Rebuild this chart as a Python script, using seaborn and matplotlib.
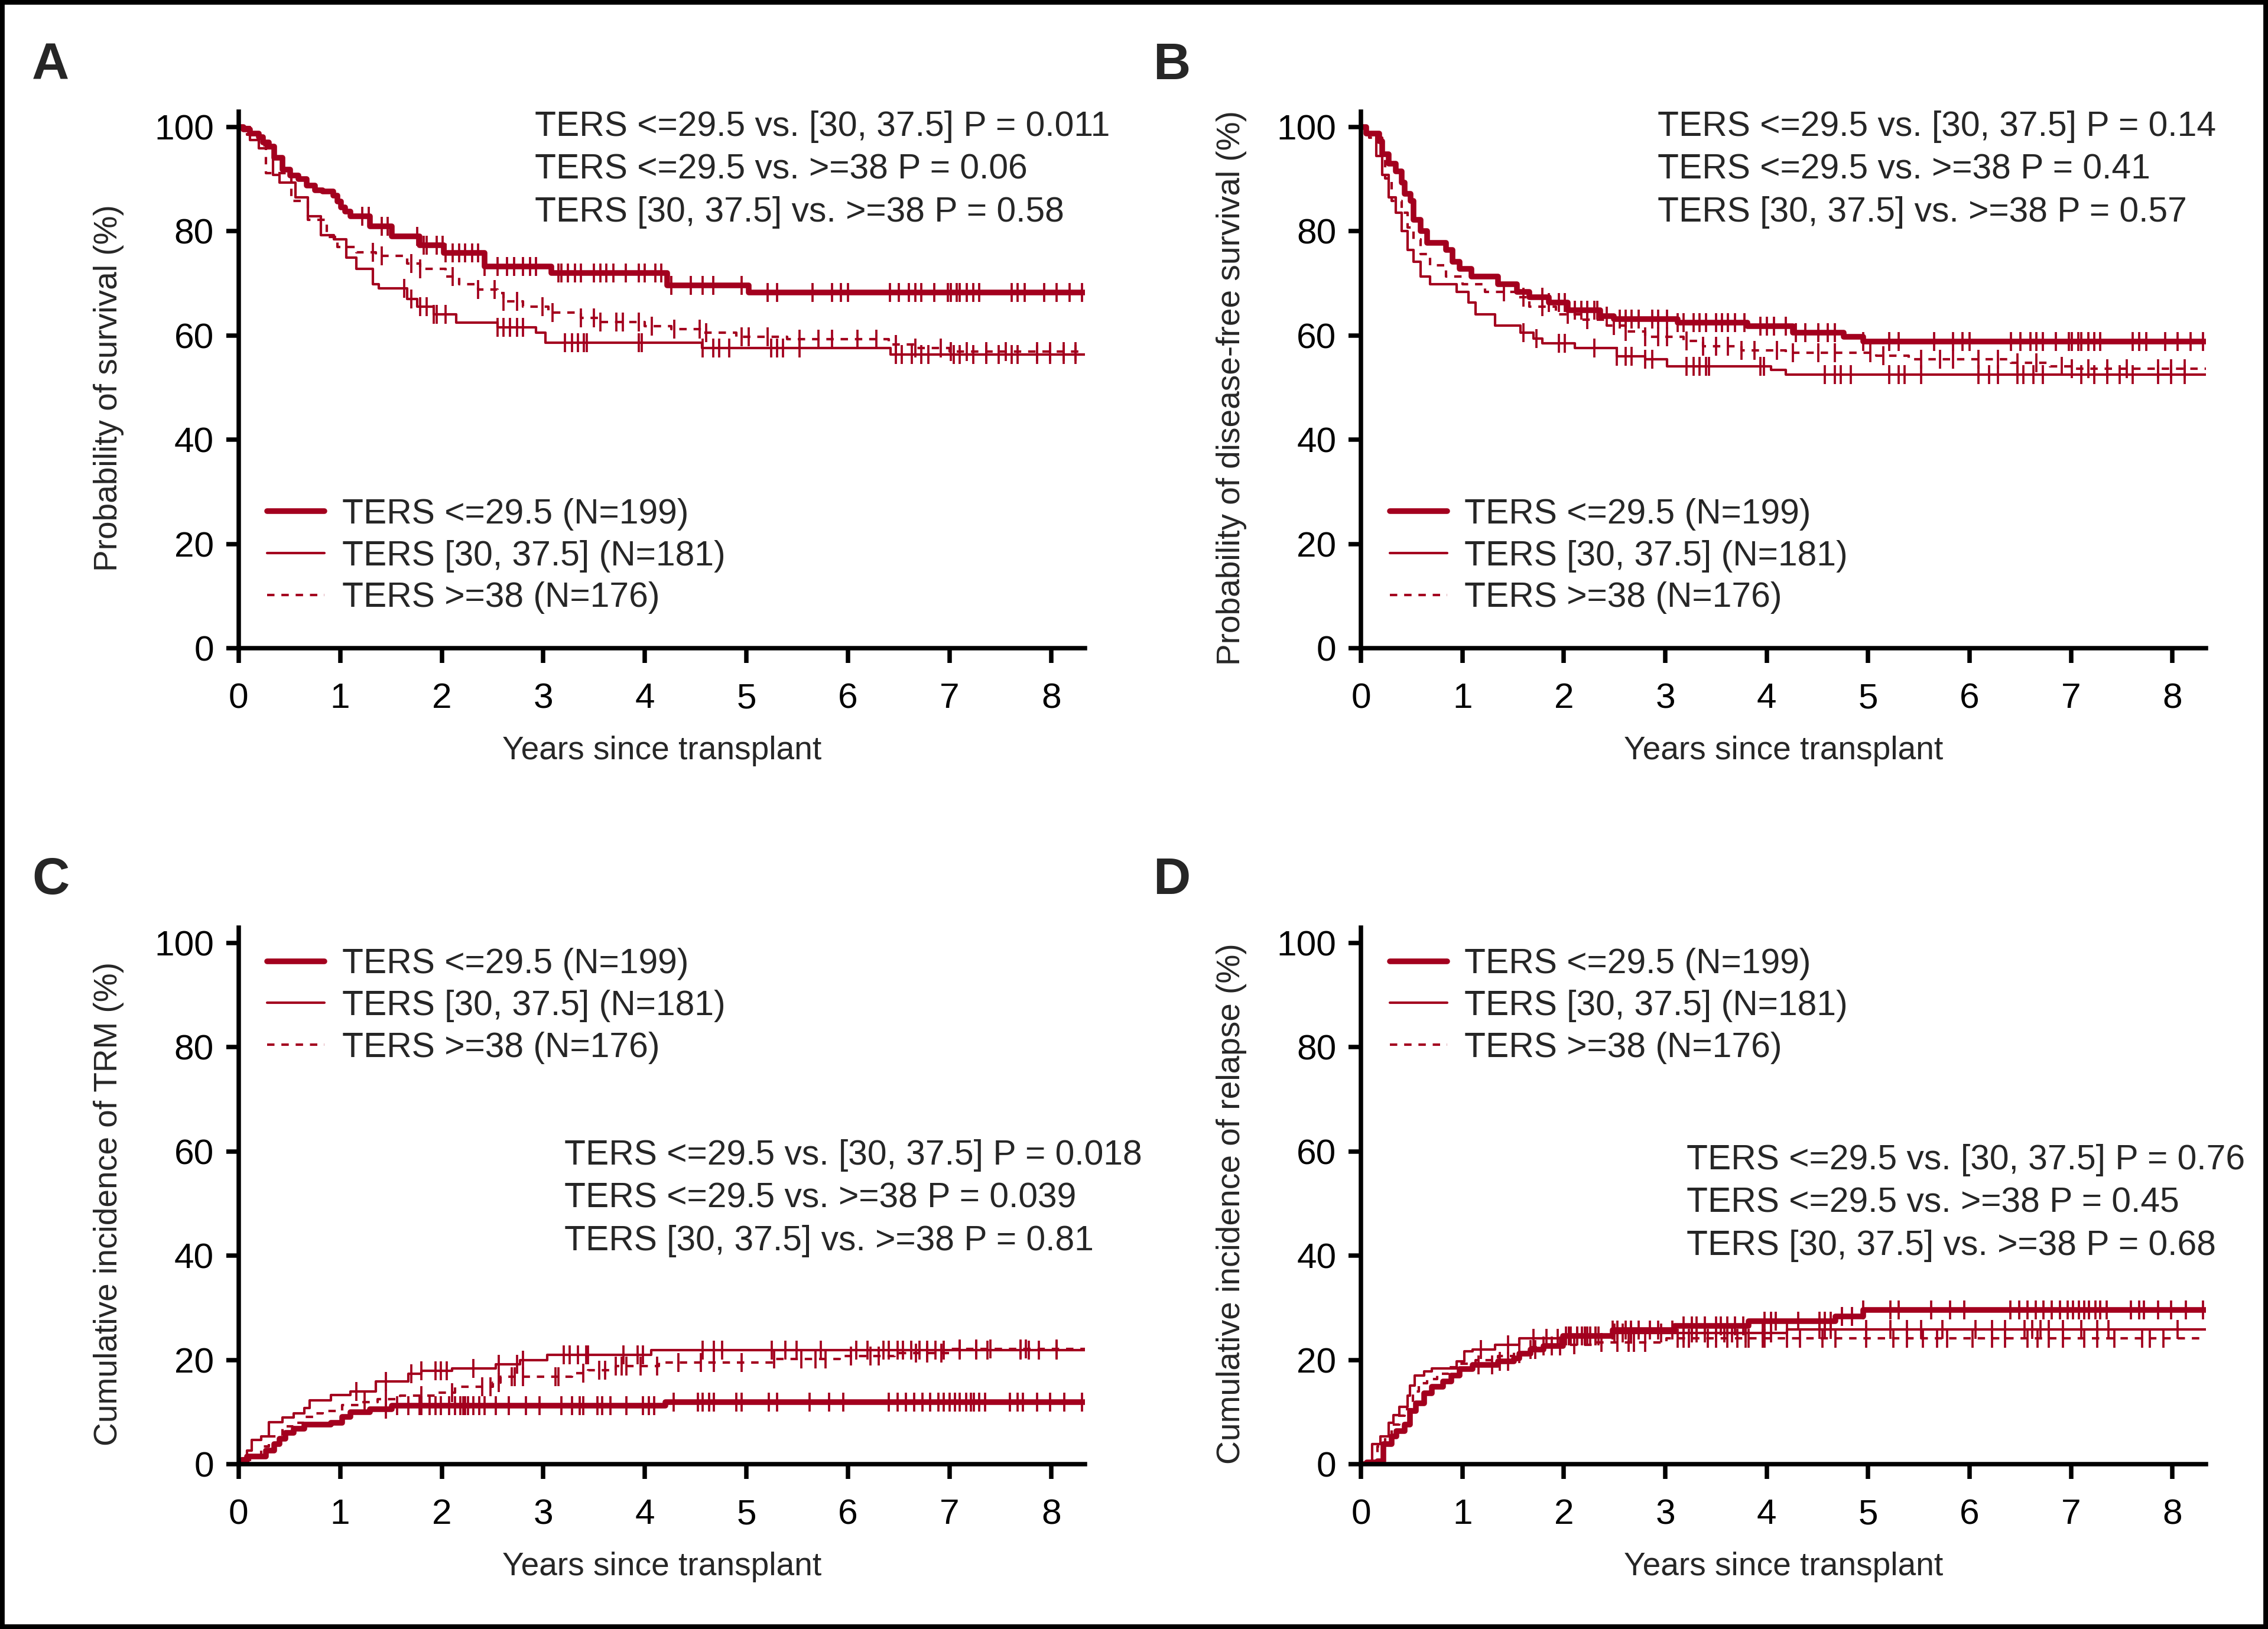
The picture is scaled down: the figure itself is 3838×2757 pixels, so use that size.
import numpy as np
import matplotlib
matplotlib.use("Agg")
import matplotlib.pyplot as plt
import seaborn as sns
from matplotlib.patches import Rectangle

RED = "#A3001E"
X_END = 8.33  # end of follow-up shown on the x axis

group_labels = ["TERS <=29.5 (N=199)", "TERS [30, 37.5] (N=181)", "TERS >=38 (N=176)"]

# ---- Panel A: overall survival ----
A_low_t = [0, 0.05, 0.11, 0.20, 0.24, 0.30, 0.35, 0.43, 0.51, 0.59, 0.67, 0.75, 0.83, 0.93, 0.97,
           1.01, 1.05, 1.10, 1.29, 1.51, 1.78, 2.02, 2.42, 3.08, 4.22, 5.02]
A_low_v = [100, 99.6, 98.8, 98.1, 97.0, 96.3, 94.1, 91.8, 90.7, 90.0, 88.8, 87.9, 87.7, 86.8, 85.7,
           84.6, 83.8, 82.9, 81.0, 79.0, 77.3, 75.8, 73.2, 72.0, 69.6, 68.3]
A_low_c = [1.22, 1.28, 1.41, 1.47, 1.76, 1.82, 1.85, 1.95, 2.01, 2.04, 2.11, 2.17, 2.23, 2.30, 2.36,
           2.42, 2.55, 2.64, 2.71, 2.80, 2.87, 2.93, 3.15, 3.18, 3.24, 3.31, 3.37, 3.50, 3.56, 3.62,
           3.69, 3.81, 3.94, 4.00, 4.10, 4.16, 4.26, 4.45, 4.57, 4.67, 4.95, 5.21, 5.30, 5.65, 5.84,
           5.93, 6.00, 6.41, 6.50, 6.60, 6.66, 6.72, 6.85, 6.98, 7.01, 7.07, 7.10, 7.17, 7.23, 7.29,
           7.61, 7.67, 7.74, 7.93, 8.05, 8.18, 8.30]

A_mid_t = [0, 0.11, 0.20, 0.34, 0.40, 0.56, 0.68, 0.81, 0.94, 1.06, 1.16, 1.32, 1.38, 1.66, 1.76,
           1.92, 2.14, 2.55, 2.93, 3.02, 4.56, 6.42]
A_mid_v = [100, 97.5, 95.9, 90.8, 89.4, 86.5, 82.9, 79.3, 78.5, 74.9, 72.8, 69.9, 69.1, 67.0, 65.5,
           64.1, 62.5, 61.6, 60.5, 58.6, 57.6, 56.3]
A_mid_c = [1.63, 1.70, 1.79, 1.85, 1.92, 1.95, 2.04, 2.55, 2.61, 2.67, 2.74, 2.80, 3.21, 3.28, 3.34,
           3.40, 3.43, 3.94, 3.97, 4.57, 4.67, 4.73, 4.83, 5.24, 5.30, 5.36, 5.52, 6.47, 6.53, 6.63,
           6.72, 6.79, 7.04, 7.10, 7.23, 7.36, 7.48, 7.61, 7.67, 7.86, 7.99, 8.12, 8.24]

A_high_t = [0, 0.08, 0.20, 0.27, 0.52, 0.68, 0.87, 0.97, 1.16, 1.35, 1.66, 1.79, 2.04, 2.17, 2.36,
            2.55, 2.61, 2.80, 3.05, 3.37, 3.56, 4.00, 4.26, 4.57, 4.90, 5.40, 6.40, 6.66, 7.00]
A_high_v = [100, 98.5, 96.5, 91.2, 85.8, 82.2, 78.9, 77.0, 76.0, 75.3, 73.8, 72.8, 71.3, 69.9, 68.8,
            68.1, 66.6, 65.5, 64.4, 63.4, 62.6, 61.8, 61.2, 60.5, 59.8, 59.3, 58.3, 57.6, 56.9]
A_high_c = [1.32, 1.41, 1.70, 1.79, 2.11, 2.36, 2.52, 2.61, 2.74, 2.99, 3.09, 3.37, 3.50, 3.56, 3.72,
            3.78, 3.94, 4.07, 4.29, 4.54, 4.60, 4.95, 5.02, 5.21, 5.52, 5.71, 5.84, 6.09, 6.28, 6.47,
            6.66, 6.91, 7.01, 7.17, 7.36, 7.55, 7.86, 7.99, 8.12, 8.24]

# ---- Panel B: disease-free survival ----
B_low_t = [0, 0.05, 0.18, 0.21, 0.27, 0.34, 0.40, 0.43, 0.49, 0.52, 0.59, 0.65, 0.84, 0.90, 0.97,
           1.09, 1.35, 1.54, 1.66, 1.85, 2.04, 2.36, 2.49, 3.12, 3.81, 4.26, 4.76, 4.95]
B_low_v = [100, 98.8, 97.3, 94.8, 93.0, 91.5, 89.4, 87.2, 85.8, 82.2, 80.0, 77.8, 76.4, 74.2, 72.8,
           71.3, 69.9, 68.4, 67.3, 66.3, 64.8, 63.7, 63.2, 62.5, 61.8, 60.6, 59.8, 58.9]
B_low_c = [1.79, 1.85, 1.95, 2.01, 2.11, 2.17, 2.23, 2.30, 2.33, 2.42, 2.55, 2.61, 2.67, 2.74, 2.87,
           2.93, 3.02, 3.12, 3.18, 3.28, 3.34, 3.40, 3.50, 3.56, 3.62, 3.69, 3.78, 3.94, 4.00, 4.07,
           4.19, 4.29, 4.38, 4.51, 4.60, 4.67, 4.95, 5.21, 5.30, 5.65, 5.84, 5.93, 6.00, 6.41, 6.50,
           6.60, 6.66, 6.72, 6.85, 6.98, 7.01, 7.07, 7.10, 7.17, 7.23, 7.29, 7.61, 7.67, 7.74, 7.93,
           8.05, 8.18, 8.30]

B_mid_t = [0, 0.05, 0.15, 0.21, 0.27, 0.34, 0.40, 0.46, 0.52, 0.59, 0.68, 0.94, 1.06, 1.13, 1.32,
           1.57, 1.70, 1.79, 2.11, 2.52, 2.80, 3.02, 4.04, 4.19]
B_mid_v = [100, 98.8, 94.4, 90.8, 86.5, 83.6, 80.0, 76.4, 74.2, 71.3, 69.9, 68.4, 66.3, 64.1, 61.9,
           60.5, 59.4, 58.5, 57.6, 56.0, 55.4, 54.1, 53.4, 52.5]
B_mid_c = [1.60, 1.73, 1.95, 2.01, 2.30, 2.52, 2.61, 2.67, 2.80, 2.87, 3.21, 3.28, 3.34, 3.40, 3.43,
           3.94, 3.97, 4.57, 4.67, 4.73, 4.83, 5.21, 5.30, 5.36, 5.52, 6.09, 6.19, 6.28, 6.47, 6.53,
           6.63, 6.72, 7.10, 7.23, 7.36, 7.48, 7.61, 7.86, 7.99, 8.12]

B_high_t = [0, 0.08, 0.21, 0.24, 0.30, 0.40, 0.46, 0.52, 0.59, 0.68, 0.84, 1.00, 1.22, 1.54, 1.66,
            1.92, 2.17, 2.42, 2.61, 2.80, 3.18, 3.37, 3.75, 4.19, 5.08, 5.40, 6.41, 6.79, 7.01]
B_high_v = [100, 98.0, 94.0, 90.1, 85.8, 83.6, 80.7, 78.5, 75.6, 73.5, 71.3, 69.9, 68.4, 67.3, 65.5,
            64.1, 63.0, 61.9, 60.8, 59.8, 59.0, 57.9, 57.2, 56.7, 56.1, 55.4, 54.8, 54.1, 53.6]
B_high_c = [1.41, 1.60, 1.79, 2.04, 2.23, 2.49, 2.61, 2.80, 2.93, 3.02, 3.21, 3.37, 3.50, 3.62, 3.75,
            3.88, 4.10, 4.26, 4.51, 4.67, 5.02, 5.15, 5.52, 5.71, 5.84, 6.09, 6.28, 6.47, 6.66, 6.91,
            7.01, 7.17, 7.36, 7.55, 7.86, 7.99, 8.12]

# ---- Panel C: cumulative incidence of TRM ----
C_low_t = [0, 0.03, 0.08, 0.27, 0.35, 0.40, 0.46, 0.54, 0.65, 0.91, 1.02, 1.10, 1.29, 1.51, 4.20]
C_low_v = [0, 0.7, 1.5, 2.6, 3.8, 4.9, 6.0, 6.8, 7.6, 7.9, 9.1, 10.0, 10.6, 11.2, 11.9]
C_low_c = [1.45, 1.56, 1.67, 1.78, 1.80, 1.88, 1.94, 1.99, 2.07, 2.13, 2.18, 2.21, 2.23, 2.26, 2.31,
           2.37, 2.42, 2.53, 2.66, 2.83, 2.96, 3.18, 3.28, 3.36, 3.39, 3.53, 3.58, 3.66, 3.82, 3.98,
           4.04, 4.09, 4.28, 4.52, 4.57, 4.63, 4.68, 4.90, 4.95, 5.22, 5.30, 5.62, 5.81, 5.95, 6.40,
           6.49, 6.57, 6.65, 6.73, 6.81, 6.89, 6.94, 7.00, 7.05, 7.10, 7.16, 7.21, 7.24, 7.29, 7.35,
           7.59, 7.67, 7.72, 7.86, 7.99, 8.13, 8.30]

C_mid_t = [0, 0.03, 0.08, 0.13, 0.22, 0.30, 0.43, 0.54, 0.65, 0.70, 0.91, 1.10, 1.35, 1.67, 1.80,
           2.10, 2.53, 2.77, 3.04, 4.06]
C_mid_v = [0, 1.1, 2.6, 4.7, 5.3, 8.1, 8.9, 9.8, 10.8, 12.3, 13.3, 14.0, 15.9, 17.3, 17.9,
           18.4, 19.2, 19.9, 21.0, 21.9]
C_mid_c = [1.16, 1.45, 1.70, 1.80, 1.94, 1.99, 2.05, 2.31, 2.56, 2.74, 2.80, 3.20, 3.26, 3.34, 3.42,
           3.44, 3.79, 3.93, 3.98, 4.57, 4.68, 4.76, 5.25, 5.38, 5.49, 5.73, 6.08, 6.19, 6.35, 6.40,
           6.49, 6.54, 6.62, 6.70, 6.78, 6.86, 6.94, 7.10, 7.26, 7.37, 7.70, 7.78, 7.88, 8.05]

C_high_t = [0, 0.11, 0.22, 0.30, 0.43, 0.54, 0.65, 0.75, 0.83, 1.02, 1.18, 1.37, 1.59, 1.96, 2.13,
            2.50, 2.58, 3.28, 3.44, 3.71, 4.14, 5.27, 5.92, 6.46, 7.00]
C_high_v = [0, 1.5, 3.4, 5.3, 7.2, 7.9, 9.1, 9.7, 10.2, 11.3, 11.9, 12.5, 13.2, 13.7, 14.8,
            15.6, 16.8, 17.5, 18.0, 18.8, 19.5, 20.2, 20.7, 21.3, 22.1]
C_high_c = [1.24, 1.45, 1.80, 2.10, 2.40, 2.48, 2.56, 2.69, 2.72, 2.80, 3.12, 3.15, 3.39, 3.55, 3.61,
            3.71, 3.77, 3.82, 3.96, 4.12, 4.33, 4.55, 4.68, 4.95, 5.27, 5.54, 5.68, 5.78, 6.03, 6.22,
            6.30, 6.67, 6.78, 6.92, 7.10, 7.26, 7.40, 7.70, 7.75, 8.05]

# ---- Panel D: cumulative incidence of relapse ----
D_low_t = [0, 0.06, 0.16, 0.22, 0.30, 0.35, 0.43, 0.48, 0.54, 0.62, 0.70, 0.81, 0.89, 0.97, 1.10,
           1.35, 1.51, 1.56, 1.67, 1.80, 1.99, 2.48, 3.09, 3.82, 4.68, 4.95]
D_low_v = [0, 0.3, 0.6, 3.8, 5.3, 6.4, 7.6, 10.2, 11.7, 13.6, 14.8, 15.9, 17.0, 18.2, 19.1,
           19.7, 20.3, 21.2, 22.0, 22.7, 24.6, 25.7, 26.5, 27.4, 28.4, 29.6]
D_low_c = [1.16, 1.29, 1.37, 1.45, 1.56, 1.67, 1.72, 1.80, 1.88, 1.96, 2.02, 2.05, 2.07, 2.13, 2.18,
           2.21, 2.23, 2.26, 2.31, 2.34, 2.48, 2.53, 2.61, 2.66, 2.74, 2.85, 2.93, 3.07, 3.18, 3.26,
           3.31, 3.39, 3.50, 3.55, 3.61, 3.69, 3.77, 3.98, 4.04, 4.09, 4.31, 4.52, 4.57, 4.63, 4.74,
           4.84, 4.95, 5.22, 5.30, 5.62, 5.81, 5.95, 6.40, 6.49, 6.57, 6.65, 6.73, 6.81, 6.89, 6.97,
           7.02, 7.08, 7.13, 7.18, 7.24, 7.29, 7.35, 7.59, 7.67, 7.72, 7.86, 7.99, 8.13, 8.30]

D_mid_t = [0, 0.11, 0.19, 0.27, 0.32, 0.38, 0.46, 0.48, 0.53, 0.62, 0.70, 0.94, 1.02, 1.10, 1.32,
           1.56, 2.02, 2.48, 4.20]
D_mid_v = [0, 3.8, 5.3, 7.9, 9.4, 11.0, 13.2, 15.1, 17.0, 17.8, 18.4, 19.7, 21.6, 22.0, 22.9,
           24.1, 24.6, 25.2, 25.8]
D_mid_c = [1.18, 1.45, 1.70, 1.83, 1.94, 2.05, 2.13, 2.21, 2.31, 2.50, 2.58, 2.66, 2.96, 3.18, 3.26,
           3.31, 3.39, 3.50, 3.58, 3.66, 3.79, 3.96, 4.04, 4.20, 4.52, 4.57, 4.63, 4.98, 5.22, 5.38,
           5.52, 5.73, 6.06, 6.22, 6.35, 6.54, 6.62, 6.70, 6.78, 6.92, 7.10, 7.26, 7.37, 8.05]

D_high_t = [0, 0.16, 0.24, 0.30, 0.38, 0.43, 0.51, 0.57, 0.65, 0.75, 0.86, 0.97, 1.13, 1.35, 1.51,
            1.67, 1.83, 2.31, 3.01]
D_high_v = [0, 3.4, 5.3, 7.6, 9.3, 10.6, 14.0, 15.5, 16.3, 17.4, 18.6, 19.3, 19.9, 20.8, 21.4,
            22.4, 22.9, 23.3, 24.2]
D_high_c = [2.10, 2.37, 2.53, 2.64, 2.69, 2.80, 3.12, 3.18, 3.23, 3.42, 3.50, 3.61, 3.71, 3.79, 3.82,
            3.96, 3.98, 4.20, 4.33, 4.55, 4.68, 4.98, 5.25, 5.38, 5.54, 5.68, 5.78, 6.03, 6.22, 6.35,
            6.57, 6.67, 6.78, 6.92, 7.13, 7.26, 7.43, 7.70, 7.78, 7.91]

y_labels = ["Probability of survival (%)", "Probability of disease-free survival (%)",
            "Cumulative incidence of TRM (%)", "Cumulative incidence of relapse (%)"]
p_texts = [
    ["TERS <=29.5 vs. [30, 37.5] P = 0.011", "TERS <=29.5 vs. >=38 P = 0.06", "TERS [30, 37.5] vs. >=38 P = 0.58"],
    ["TERS <=29.5 vs. [30, 37.5] P = 0.14", "TERS <=29.5 vs. >=38 P = 0.41", "TERS [30, 37.5] vs. >=38 P = 0.57"],
    ["TERS <=29.5 vs. [30, 37.5] P = 0.018", "TERS <=29.5 vs. >=38 P = 0.039", "TERS [30, 37.5] vs. >=38 P = 0.81"],
    ["TERS <=29.5 vs. [30, 37.5] P = 0.76", "TERS <=29.5 vs. >=38 P = 0.45", "TERS [30, 37.5] vs. >=38 P = 0.68"],
]
panel_letters = ["A", "B", "C", "D"]

curves = [
    [(A_low_t, A_low_v, A_low_c), (A_mid_t, A_mid_v, A_mid_c), (A_high_t, A_high_v, A_high_c)],
    [(B_low_t, B_low_v, B_low_c), (B_mid_t, B_mid_v, B_mid_c), (B_high_t, B_high_v, B_high_c)],
    [(C_low_t, C_low_v, C_low_c), (C_mid_t, C_mid_v, C_mid_c), (C_high_t, C_high_v, C_high_c)],
    [(D_low_t, D_low_v, D_low_c), (D_mid_t, D_mid_v, D_mid_c), (D_high_t, D_high_v, D_high_c)],
]

# line style per group: thick solid, thin solid, thin dashed
line_styles = [dict(lw=2.3, ls="-"), dict(lw=1.0, ls="-"), dict(lw=1.0, ls=(0, (3, 2.8)))]

sns.set_style("ticks")
plt.rcParams["font.family"] = ["Liberation Sans", "DejaVu Sans"]
plt.rcParams["lines.scale_dashes"] = False
TEXT_SIZE = 14.1
LABEL_SIZE = 13.2

fig = plt.figure(figsize=(3838 / 300, 2757 / 300), dpi=300)
ax_pos = [
    [0.1052, 0.6021, 0.3731, 0.3295],
    [0.6001, 0.6021, 0.3725, 0.3295],
    [0.1052, 0.1012, 0.3731, 0.3295],
    [0.6001, 0.1012, 0.3725, 0.3295],
]
letter_pos = [(0.0141, 0.9515), (0.5083, 0.9515), (0.0141, 0.4512), (0.5083, 0.4512)]
# legend top and p-value first line (axes fraction) per panel
legend_anchor = [0.280, 0.280, 0.962, 0.962]
ptext_pos = [(0.350, 0.971), (0.351, 0.971), (0.385, 0.575), (0.385, 0.566)]


def value_at(t_steps, v_steps, times):
    idx = np.searchsorted(np.asarray(t_steps), np.asarray(times), side="right") - 1
    return np.asarray(v_steps)[idx]


for i in range(4):
    ax = fig.add_axes(ax_pos[i])
    handles = []
    for g, (t, v, c) in enumerate(curves[i]):
        st = line_styles[g]
        tt = list(t) + [X_END]
        vv = list(v) + [v[-1]]
        sns.lineplot(x=tt, y=vv, drawstyle="steps-post", estimator=None, sort=False,
                     color=RED, linewidth=st["lw"], linestyle=st["ls"], ax=ax,
                     label=group_labels[g], legend=False)
        handles.append(ax.lines[-1])
        sns.scatterplot(x=c, y=value_at(t, v, c), marker="|", s=60, linewidth=0.9,
                        color=RED, ax=ax, legend=False, zorder=3)

    ax.set_xlim(0, X_END)
    ax.set_ylim(0, 103)
    ax.set_xticks(range(0, 9))
    ax.set_yticks([0, 20, 40, 60, 80, 100])
    ax.tick_params(axis="x", length=6, width=1.8, pad=8, labelsize=14.5, colors="black")
    ax.tick_params(axis="y", length=5, width=1.8, pad=5, labelsize=14.5, colors="black")
    for side in ["left", "bottom"]:
        ax.spines[side].set_linewidth(1.8)
        ax.spines[side].set_color("black")
    sns.despine(ax=ax)

    ax.set_xlabel("Years since transplant", fontsize=LABEL_SIZE)
    ax.set_ylabel(y_labels[i], fontsize=LABEL_SIZE)
    ax.xaxis.set_label_coords(0.5, -0.163)
    ax.yaxis.set_label_coords(-0.135, 0.485)

    ax.legend(handles=handles, labels=group_labels, loc="upper left",
              bbox_to_anchor=(0.034, legend_anchor[i]), frameon=False, fontsize=TEXT_SIZE,
              borderpad=0, borderaxespad=0, handlelength=1.65, handletextpad=0.5,
              labelspacing=0.27)

    px, py = ptext_pos[i]
    for k, line in enumerate(p_texts[i]):
        ax.text(px, py - k * 0.0795, line, transform=ax.transAxes, fontsize=TEXT_SIZE,
                ha="left", va="center")

    fig.text(letter_pos[i][0], letter_pos[i][1], panel_letters[i], fontsize=21,
             fontweight="bold", ha="left", va="baseline")

fig.patches.append(Rectangle((0, 0), 1, 1, transform=fig.transFigure, fill=False,
                             edgecolor="black", linewidth=3.8, zorder=10))

fig.savefig("out.png", dpi=300, facecolor="white")
